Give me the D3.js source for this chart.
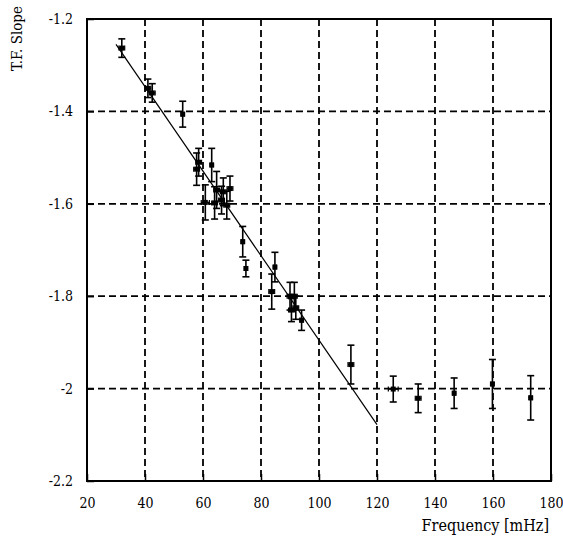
<!DOCTYPE html>
<meta charset="utf-8">
<html>
<script src="https://d3js.org/d3.v7.min.js"></script>
<style>
  body { margin: 0; background: #fff; }
</style>
<div id="chart"></div>
<script>

// measured points (frequency in mHz, T.F. slope, error on slope, error on frequency)
var freq  = [32, 41, 42.5, 53, 57.8, 58.5, 63, 60.8, 64, 64.7, 66.4, 67, 68.2, 69.3, 73.7, 74.8, 84.8, 83.7, 90, 91.5, 90.5, 92, 94, 111, 125.6, 134.2, 146.6, 159.8, 173];
var slope = [-1.263, -1.35, -1.36, -1.406, -1.525, -1.51, -1.516, -1.597, -1.598, -1.57, -1.592, -1.574, -1.603, -1.567, -1.682, -1.74, -1.737, -1.79, -1.80, -1.80, -1.83, -1.825, -1.852, -1.948, -2.001, -2.021, -2.010, -1.99, -2.02];
var yerr  = [0.02, 0.02, 0.02, 0.028, 0.035, 0.03, 0.036, 0.038, 0.035, 0.04, 0.03, 0.03, 0.03, 0.027, 0.033, 0.018, 0.032, 0.038, 0.03, 0.03, 0.025, 0.025, 0.022, 0.042, 0.028, 0.031, 0.033, 0.053, 0.048];
var xerr  = [1, 1, 1, 0.5, 1, 1, 0.5, 1.4, 1, 1, 1, 1, 1, 1, 0.5, 0.5, 0.5, 1, 1, 1, 1, 1, 0.5, 1, 1.7, 1, 0.5, 0.5, 0.5];

// fitted line end points
var fitX = [30, 120];
var fitY = [-1.255, -2.078];

var xTicks = [20, 40, 60, 80, 100, 120, 140, 160, 180];
var yTicks = [-1.2, -1.4, -1.6, -1.8, -2, -2.2];

var serif = "DejaVu Serif Condensed, DejaVu Serif";

var width = 563,
    height = 541,
    margin = {top: 19, right: 12, bottom: 60, left: 87};

var svg = d3.select("#chart")
  .append("svg")
    .attr("width", width)
    .attr("height", height);

var x = d3.scaleLinear().domain([20, 180]).range([margin.left, width - margin.right]);
var y = d3.scaleLinear().domain([-2.2, -1.2]).range([height - margin.bottom, margin.top]);

// dashed grid
svg.append("g").selectAll("line")
  .data(xTicks.slice(1, -1))
  .enter().append("line")
    .attr("x1", function(d) { return x(d); })
    .attr("x2", function(d) { return x(d); })
    .attr("y1", y(-1.2))
    .attr("y2", y(-2.2))
    .attr("stroke", "#000")
    .attr("stroke-width", 1.8)
    .attr("stroke-dasharray", "7,4");

svg.append("g").selectAll("line")
  .data(yTicks.slice(1, -1))
  .enter().append("line")
    .attr("y1", function(d) { return y(d); })
    .attr("y2", function(d) { return y(d); })
    .attr("x1", x(20))
    .attr("x2", x(180))
    .attr("stroke", "#000")
    .attr("stroke-width", 1.8)
    .attr("stroke-dasharray", "7,4");

// axes with inward ticks
var fmt = function(d) { return String(d); };

var xAxis = svg.append("g")
  .attr("transform", "translate(0," + y(-2.2) + ")")
  .call(d3.axisBottom(x).tickValues(xTicks).tickSizeInner(-7).tickSizeOuter(0).tickPadding(17).tickFormat(fmt));

var yAxis = svg.append("g")
  .attr("transform", "translate(" + x(20) + ",0)")
  .call(d3.axisLeft(y).tickValues(yTicks).tickSizeInner(-7).tickSizeOuter(0).tickPadding(14).tickFormat(fmt));

[xAxis, yAxis].forEach(function(a) {
  a.attr("font-family", serif).attr("font-size", 14);
  a.select(".domain").remove();
  a.selectAll(".tick line").attr("stroke", "#000").attr("stroke-width", 1.5);
  a.selectAll(".tick text").attr("fill", "#000");
});

// frame
svg.append("rect")
  .attr("x", x(20))
  .attr("y", y(-1.2))
  .attr("width", x(180) - x(20))
  .attr("height", y(-2.2) - y(-1.2))
  .attr("fill", "none")
  .attr("stroke", "#000")
  .attr("stroke-width", 2);

// fit line
svg.append("line")
  .attr("x1", x(fitX[0])).attr("y1", y(fitY[0]))
  .attr("x2", x(fitX[1])).attr("y2", y(fitY[1]))
  .attr("stroke", "#000")
  .attr("stroke-width", 1.2);

var pts = freq.map(function(f, i) { return {f: f, s: slope[i], ey: yerr[i], ex: xerr[i]}; });

var g = svg.append("g").selectAll("g")
  .data(pts)
  .enter().append("g");

// vertical error bars
g.append("line")
  .attr("x1", function(d) { return x(d.f); })
  .attr("x2", function(d) { return x(d.f); })
  .attr("y1", function(d) { return y(d.s + d.ey); })
  .attr("y2", function(d) { return y(d.s - d.ey); })
  .attr("stroke", "#000").attr("stroke-width", 1.6);

g.selectAll("line.cap")
  .data(function(d) { return [{f: d.f, v: d.s + d.ey}, {f: d.f, v: d.s - d.ey}]; })
  .enter().append("line")
    .attr("class", "cap")
    .attr("x1", function(d) { return x(d.f) - 3.5; })
    .attr("x2", function(d) { return x(d.f) + 3.5; })
    .attr("y1", function(d) { return y(d.v); })
    .attr("y2", function(d) { return y(d.v); })
    .attr("stroke", "#000").attr("stroke-width", 1.6);

// horizontal error bars
g.append("line")
  .attr("x1", function(d) { return x(d.f - d.ex); })
  .attr("x2", function(d) { return x(d.f + d.ex); })
  .attr("y1", function(d) { return y(d.s); })
  .attr("y2", function(d) { return y(d.s); })
  .attr("stroke", "#000").attr("stroke-width", 1.5);

g.selectAll("line.hcap")
  .data(function(d) { return [{v: d.f - d.ex, s: d.s}, {v: d.f + d.ex, s: d.s}]; })
  .enter().append("line")
    .attr("class", "hcap")
    .attr("x1", function(d) { return x(d.v); })
    .attr("x2", function(d) { return x(d.v); })
    .attr("y1", function(d) { return y(d.s) - 2.5; })
    .attr("y2", function(d) { return y(d.s) + 2.5; })
    .attr("stroke", "#000").attr("stroke-width", 1.2);

// markers
g.append("rect")
  .attr("x", function(d) { return x(d.f) - 2.5; })
  .attr("y", function(d) { return y(d.s) - 2.5; })
  .attr("width", 5)
  .attr("height", 5)
  .attr("fill", "#000");

// axis titles
svg.append("text")
  .attr("transform", "translate(17,6) rotate(-90)")
  .attr("text-anchor", "end")
  .attr("dy", "0.35em")
  .attr("font-family", serif)
  .attr("font-size", 15)
  .text("T.F. Slope");

svg.append("text")
  .attr("x", x(180) - 2)
  .attr("y", 531)
  .attr("text-anchor", "end")
  .attr("font-family", serif)
  .attr("font-size", 16)
  .text("Frequency [mHz]");

</script>
</html>
